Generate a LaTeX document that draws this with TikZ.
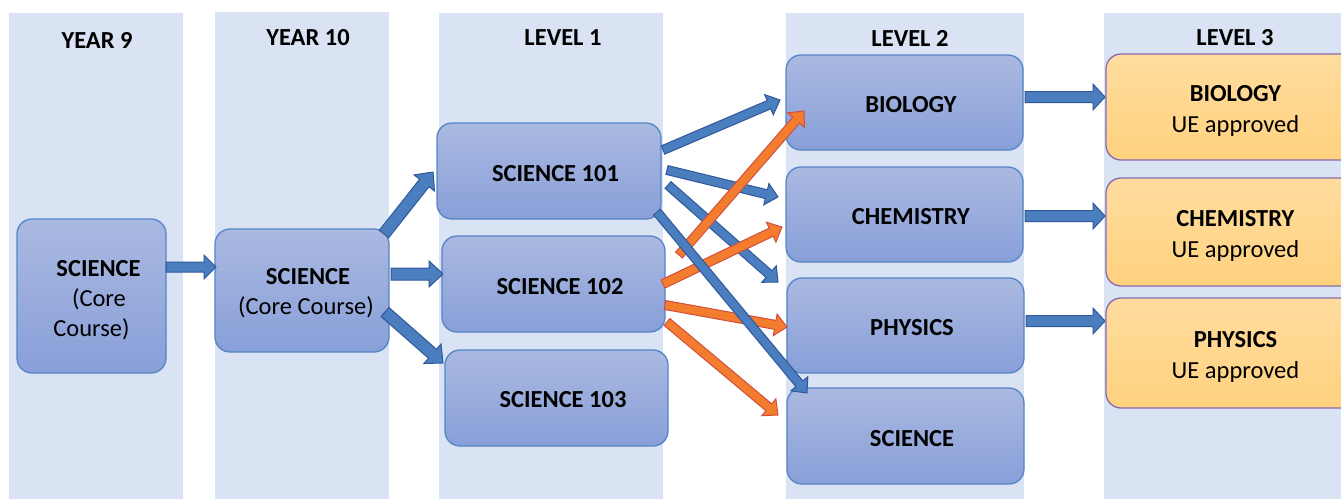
\documentclass[tikz,border=0pt]{standalone}
\usepackage{fontspec}
\setmainfont{Carlito}
\usetikzlibrary{calc}
\definecolor{colbg}{HTML}{DAE3F3}
\definecolor{boxtop}{HTML}{AAB9E1}
\definecolor{boxbot}{HTML}{889FD8}
\definecolor{boxline}{HTML}{5585C5}
\definecolor{ytop}{HTML}{FFDC9E}
\definecolor{ybot}{HTML}{FFD27F}
\definecolor{yline}{HTML}{8A6BB0}
\definecolor{bfill}{HTML}{4A7EBF}
\definecolor{bline}{HTML}{30589A}
\definecolor{ofill}{HTML}{F47C2E}
\definecolor{oline}{HTML}{D0503E}
\newcommand\blkarrow[6]{%
  \draw[#1] ($(#2)!#4!90:(#3)$) -- ($(#3)!#6!(#2)!#4!90:(#3)$)
    -- ($(#3)!#6!(#2)!#5!90:(#3)$) -- (#3)
    -- ($(#3)!#6!(#2)!#5!-90:(#3)$) -- ($(#3)!#6!(#2)!#4!-90:(#3)$)
    -- ($(#2)!#4!-90:(#3)$) -- cycle;}
% invisible strut lowering the text a little, plus a right shift
\newcommand\lw[1]{\rule{0pt}{#1}}
\newcommand\rs{\hspace*{13pt}}
\tikzset{
  colrect/.style={fill=colbg, draw=none},
  hdr/.style={font=\fontsize{24.5}{30}\selectfont\bfseries},
  bluebox/.style={rounded corners=15pt, draw=boxline, line width=1.3pt,
    top color=boxtop, bottom color=boxbot, align=center,
    font=\fontsize{24.5}{30}\selectfont, inner sep=0pt},
  ylwbox/.style={rounded corners=15pt, draw=yline, line width=1.3pt,
    top color=ytop, bottom color=ybot, align=center,
    font=\fontsize{24.5}{31}\selectfont, inner sep=0pt},
  barr/.style={fill=bfill, draw=bline, line width=1pt, line join=miter},
  oarr/.style={fill=ofill, draw=oline, line width=1pt, line join=miter},
}
\begin{document}
\begin{tikzpicture}[x=1pt, y=-1pt]
\useasboundingbox (0,0) rectangle (1341,499);
% column backgrounds
\fill[colrect] (9,13) rectangle (183,499);
\fill[colrect] (215,12) rectangle (389,499);
\fill[colrect] (439,13) rectangle (663,499);
\fill[colrect] (786,13) rectangle (1024,499);
\fill[colrect] (1104,13) rectangle (1341,499);
% headers
\node[hdr] (h1) at (97,40) {YEAR 9};
\node[hdr] (h2) at (308,38) {YEAR 10};
\node[hdr] (h3) at (563,38) {LEVEL 1};
\node[hdr] (h4) at (910,38) {LEVEL 2};
\node[hdr] (h5) at (1235,38) {LEVEL 3};
% boxes
\node[bluebox, minimum width=149pt, minimum height=154pt] (y9) at (91.5,296) {\lw{24pt}\hspace*{14pt}\textbf{SCIENCE}\\\hspace*{15pt}(Core\\Course)};
\node[bluebox, minimum width=174pt, minimum height=123pt] (y10) at (302,290.5) {\lw{22pt}\hspace*{12pt}\textbf{SCIENCE}\\\hspace*{8pt}(Core Course)};
\node[bluebox, minimum width=224pt, minimum height=96pt] (s101) at (549,171) {\lw{22pt}\rs\textbf{SCIENCE 101}};
\node[bluebox, minimum width=223pt, minimum height=96pt] (s102) at (553.5,284) {\lw{21pt}\rs\textbf{SCIENCE 102}};
\node[bluebox, minimum width=223pt, minimum height=96pt] (s103) at (556.5,398) {\lw{20pt}\rs\textbf{SCIENCE 103}};
\node[bluebox, minimum width=237pt, minimum height=95pt] (bio2) at (904.5,102.5) {\lw{21pt}\rs\textbf{BIOLOGY}};
\node[bluebox, minimum width=237pt, minimum height=95pt] (chem2) at (904.5,214.5) {\lw{21pt}\rs\textbf{CHEMISTRY}};
\node[bluebox, minimum width=237pt, minimum height=95pt] (phys2) at (905.5,325.5) {\lw{21pt}\rs\textbf{PHYSICS}};
\node[bluebox, minimum width=237pt, minimum height=96pt] (sci2) at (905.5,436) {\lw{21pt}\rs\textbf{SCIENCE}};
\node[ylwbox, minimum width=259pt, minimum height=106pt] (bio3) at (1235.5,107) {\lw{24pt}\textbf{BIOLOGY}\\UE approved};
\node[ylwbox, minimum width=259pt, minimum height=108pt] (chem3) at (1235.5,232) {\lw{24pt}\textbf{CHEMISTRY}\\UE approved};
\node[ylwbox, minimum width=259pt, minimum height=110pt] (phys3) at (1235.5,353) {\lw{24pt}\textbf{PHYSICS}\\UE approved};
% arrow end points
\coordinate (a1s) at (166,267);  \coordinate (a1e) at (216,267);
\coordinate (a2s) at (384,234);  \coordinate (a2e) at (433,172);
\coordinate (a3s) at (391,274);  \coordinate (a3e) at (443,274);
\coordinate (a4s) at (385,312);  \coordinate (a4e) at (443,363);
\coordinate (b1s) at (663,150);  \coordinate (b1e) at (780,100);
\coordinate (b2s) at (667,170);  \coordinate (b2e) at (778,197);
\coordinate (b3s) at (668,185);  \coordinate (b3e) at (778,282);
\coordinate (b4s) at (657,212);  \coordinate (b4e) at (807,393);
\coordinate (o1s) at (679,255);  \coordinate (o1e) at (804,111);
\coordinate (o2s) at (663,284);  \coordinate (o2e) at (782,227);
\coordinate (o3s) at (665,305);  \coordinate (o3e) at (787,327);
\coordinate (o4s) at (667,322);  \coordinate (o4e) at (778,415);
\coordinate (c1s) at (1025,97);  \coordinate (c1e) at (1105,97);
\coordinate (c2s) at (1025,216); \coordinate (c2e) at (1105,216);
\coordinate (c3s) at (1026,321); \coordinate (c3e) at (1105,321);
% arrows
\blkarrow{barr}{a1s}{a1e}{5pt}{12pt}{12pt}
\blkarrow{barr}{a2s}{a2e}{6pt}{13pt}{14pt}
\blkarrow{barr}{a3s}{a3e}{6pt}{13pt}{14pt}
\blkarrow{barr}{a4s}{a4e}{6pt}{13pt}{14pt}
\blkarrow{barr}{b1s}{b1e}{4.5pt}{11pt}{12pt}
\blkarrow{barr}{b2s}{b2e}{4.5pt}{11pt}{12pt}
\blkarrow{barr}{b3s}{b3e}{4.5pt}{11pt}{12pt}
\blkarrow{oarr}{o1s}{o1e}{4.5pt}{11pt}{12pt}
\blkarrow{oarr}{o2s}{o2e}{4.5pt}{11pt}{12pt}
\blkarrow{oarr}{o3s}{o3e}{4.5pt}{11pt}{12pt}
\blkarrow{oarr}{o4s}{o4e}{4.5pt}{11pt}{12pt}
\blkarrow{barr}{b4s}{b4e}{4.5pt}{11pt}{12pt}
\blkarrow{barr}{c1s}{c1e}{5.5pt}{13pt}{12pt}
\blkarrow{barr}{c2s}{c2e}{5.5pt}{13pt}{12pt}
\blkarrow{barr}{c3s}{c3e}{5.5pt}{13pt}{12pt}
\end{tikzpicture}
\end{document}
